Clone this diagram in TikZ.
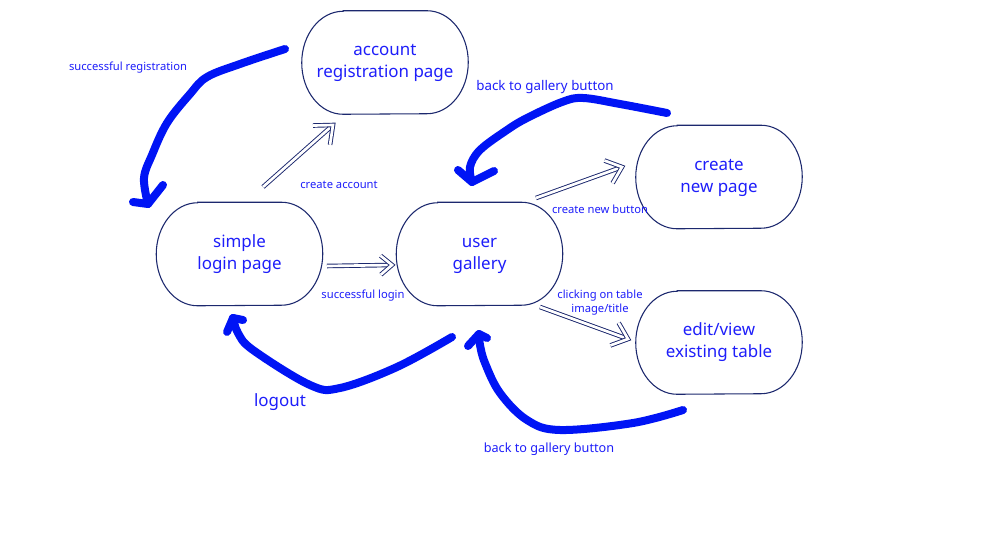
\documentclass[tikz,border=0pt]{standalone}
\usepackage{fontspec}
\setmainfont{Noto Sans}
\usetikzlibrary{calc}
\definecolor{navy}{RGB}{28,40,110}
\definecolor{ink}{RGB}{30,30,250}
\definecolor{pen}{RGB}{0,20,245}
\tikzset{
  state/.style={minimum width=124.5pt, minimum height=77.25pt, align=center, text=ink,
    font=\fontsize{12.7}{16.5}\selectfont, inner sep=0pt},
  border/.style={draw=navy, line width=0.8pt},
  lbl/.style={text=ink, font=\fontsize{8.4}{10.5}\selectfont, inner sep=0pt, align=center},
  lblmid/.style={text=ink, font=\fontsize{10}{12}\selectfont, inner sep=0pt},
  lblbig/.style={text=ink, font=\fontsize{12.7}{15}\selectfont, inner sep=0pt},
  dbl/.style={draw=navy, line width=0.7pt, double=white, double distance=2pt, line join=miter},
  freehand/.style={draw=pen, line width=6pt, line cap=round, line join=round}
}
\newcommand{\dblarrow}[3]{%
  \draw[dbl] (#1) -- (#2);
  \draw[dbl] ($(#2)!#3!40:(#1)$) -- (#2) -- ($(#2)!#3!-40:(#1)$);
}
\newcommand{\twolines}[2]{\raisebox{4.5pt}{\begin{tabular}{@{}c@{}}#1\\[0pt]#2\end{tabular}}}
\begin{document}
\begin{tikzpicture}[x=0.75pt,y=-0.75pt]
\useasboundingbox (0,0) rectangle (1000,560);
\fill[white] (0,0) rectangle (1000,560);

% states
\node[state] (acc) at (385,62.5) {\twolines{account}{registration page}};
\node[state] (login) at (239.5,254) {\twolines{simple}{login page}};
\node[state] (gal) at (479.5,254) {\twolines{user}{gallery}};
\node[state] (new) at (719,177) {\twolines{create}{new page}};
\node[state] (edit) at (719,342.5) {\twolines{edit/view}{existing table}};
\foreach \n in {acc,login,gal,new,edit}{
  \draw[border] ([xshift=31pt]\n.north west) -- ([xshift=-31pt]\n.north east)
    arc[start angle=90,end angle=-90,x radius=31pt,y radius=38.625pt]
    -- ([xshift=31pt]\n.south west)
    arc[start angle=270,end angle=90,x radius=31pt,y radius=38.625pt] -- cycle;
}

% labels
\node[lbl] (lreg) at (128,68) {successful registration};
\node[lblmid] (ltop) at (545,87) {back to gallery button};
\node[lbl] (lacc) at (339,185) {create account};
\node[lbl] (llog) at (363,296) {successful login};
\node[lbl] (lnew) at (600,209) {create new button};
\node[lbl] (lclick) at (600,303) {clicking on table\\image/title};
\node[lblbig] (lout) at (280,402) {logout};
\node[lblmid, font=\fontsize{9.5}{11}\selectfont] (lbot) at (549,449) {back to gallery button};

% double-line arrows
\coordinate (a1t) at (263,187); \coordinate (a1h) at (333,125);
\coordinate (a2t) at (327,266); \coordinate (a2h) at (392,265);
\coordinate (a3t) at (536,198); \coordinate (a3h) at (622,167);
\coordinate (a4t) at (540,307); \coordinate (a4h) at (628,339);
\dblarrow{a1t}{a1h}{15pt}
\dblarrow{a2t}{a2h}{11pt}
\dblarrow{a3t}{a3h}{14pt}
\dblarrow{a4t}{a4h}{14pt}

% freehand arrows
\coordinate (f1s) at (285,49); \coordinate (f1e) at (148,204);
\draw[freehand] plot[smooth, tension=0.6] coordinates {(f1s) (240,64) (207,77) (190,94) (167,123) (152,155) (144,178) (f1e)};
\draw[freehand] (133,202) -- (f1e) -- (163,185);

\coordinate (f2s) at (667,113); \coordinate (f2e) at (472,182);
\draw[freehand] plot[smooth, tension=0.6] coordinates {(f2s) (620,104) (583,98) (562,102) (527,118) (507,130) (480,150) (470,167) (f2e)};
\draw[freehand] (458,170) -- (f2e) -- (494,171);

\coordinate (f3s) at (452,337); \coordinate (f3e) at (233,318);
\draw[freehand] plot[smooth, tension=0.6] coordinates {(f3s) (397,367) (340,388) (310,385) (253,350) (238,333) (f3e)};
\draw[freehand] (227,332) -- (f3e) -- (243,320);

\coordinate (f4s) at (683,410); \coordinate (f4e) at (479,334);
\draw[freehand] plot[smooth, tension=0.6] coordinates {(f4s) (633,423) (560,430) (527,420) (500,393) (485,363) (480,345) (f4e)};
\draw[freehand] (468,346) -- (f4e) -- (487,338);
\end{tikzpicture}
\end{document}
